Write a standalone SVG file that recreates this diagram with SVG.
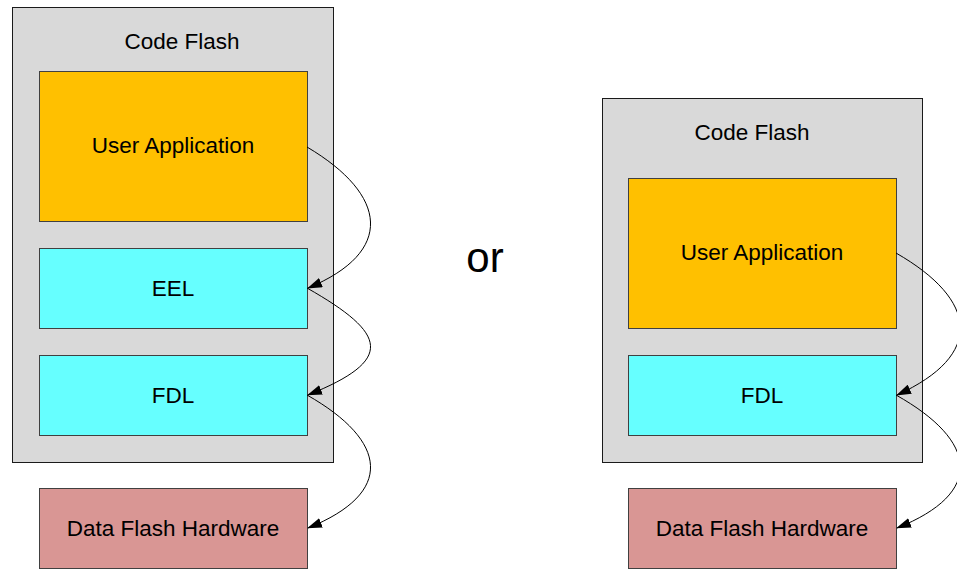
<svg xmlns="http://www.w3.org/2000/svg" width="957" height="570" viewBox="0 0 957 570">
<style>
.cont{fill:#d9d9d9;stroke:#1a1a1a;stroke-width:1}
.app{fill:#ffc000;stroke:#404040;stroke-width:1}
.lib{fill:#66ffff;stroke:#404040;stroke-width:1}
.hw{fill:#d99694;stroke:#404040;stroke-width:1}
text{font-family:"Liberation Sans",Arial,sans-serif;font-size:22.5px;fill:#000;text-anchor:middle}
.conn{fill:none;stroke:#000;stroke-width:1}
</style>
<defs>
<marker id="arr" viewBox="0 0 15 10" refX="14" refY="5" markerWidth="15" markerHeight="10" markerUnits="userSpaceOnUse" orient="auto">
<path d="M0,0 L15,5 L0,10 z" fill="#000"/>
</marker>
</defs>
<rect width="957" height="570" fill="#fff"/>
<g id="left-codeflash"><rect class="cont" x="12.5" y="7.5" width="321" height="455"/><text x="182" y="49">Code Flash</text></g>
<g id="left-userapp"><rect class="app" x="39.5" y="71.5" width="268" height="150"/><text x="173" y="153">User Application</text></g>
<g id="left-eel"><rect class="lib" x="39.5" y="248.5" width="268" height="80"/><text x="173" y="296">EEL</text></g>
<g id="left-fdl"><rect class="lib" x="39.5" y="355.5" width="268" height="80"/><text x="173" y="403">FDL</text></g>
<g id="left-dataflash"><rect class="hw" x="39.5" y="488.5" width="268" height="80"/><text x="173" y="536">Data Flash Hardware</text></g>
<g id="or"><text x="485" y="272" style="font-size:42px">or</text></g>
<g id="right-codeflash"><rect class="cont" x="602.5" y="98.5" width="320" height="364"/><text x="752" y="140">Code Flash</text></g>
<g id="right-userapp"><rect class="app" x="628.5" y="178.5" width="268" height="150"/><text x="762" y="260">User Application</text></g>
<g id="right-fdl"><rect class="lib" x="628.5" y="355.5" width="268" height="80"/><text x="762" y="403">FDL</text></g>
<g id="right-dataflash"><rect class="hw" x="628.5" y="488.5" width="268" height="80"/><text x="762" y="536">Data Flash Hardware</text></g>
<g id="connectors">
<path class="conn" marker-end="url(#arr)" d="M307,147 C388,195 395,252 308,288"/>
<path class="conn" marker-end="url(#arr)" d="M307,288 C388,334 395,360 308,395"/>
<path class="conn" marker-end="url(#arr)" d="M307,395 C388,441 395,493 308,528"/>
<path class="conn" marker-end="url(#arr)" d="M896,253 C978,300 985,355 897,395"/>
<path class="conn" marker-end="url(#arr)" d="M896,395 C978,441 985,493 897,528"/>
</g>
</svg>
